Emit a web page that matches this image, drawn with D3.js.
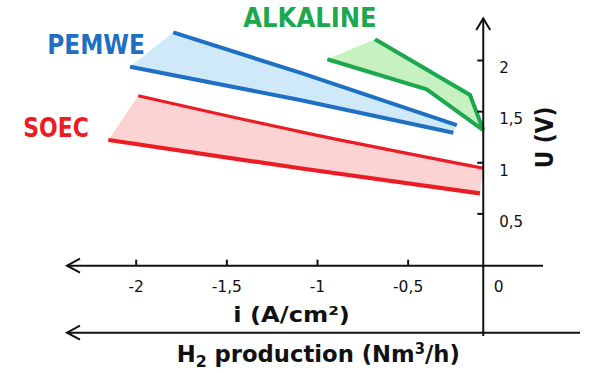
<!DOCTYPE html>
<html>
<head>
<meta charset="utf-8">
<script src="https://cdn.jsdelivr.net/npm/d3@7"></script>
<style>
  html, body { margin: 0; padding: 0; background: #ffffff; }
  svg { display: block; }
  text { font-family: "DejaVu Sans", Verdana, sans-serif; }
</style>
</head>
<body>
<svg id="chart" width="589" height="373"></svg>
<script>
// ---- data: current density i (A/cm2) vs cell voltage U (V) ----
const categories = ["PEMWE", "SOEC", "ALKALINE"];

const pemweUpper = [[-1.793, 2.271], [-1.094, 1.876], [-0.229, 1.364]];
const pemweLower = [[-2.031, 1.934], [-1.094, 1.609], [-0.248, 1.289]];

const soecUpper = [[-1.986, 1.651], [-1.094, 1.299], [-0.083, 0.941]];
const soecLower = [[-2.151, 1.218], [-1.094, 0.941], [-0.101, 0.696]];

const alkUpper = [[-0.680, 2.202], [-0.156, 1.658], [-0.083, 1.315]];
const alkLower = [[-0.943, 2.007], [-0.395, 1.713], [-0.083, 1.315]];

const xTicks = [-2, -1.5, -1, -0.5, 0];
const yTicks = [0.5, 1, 1.5, 2];

const xTitle = "i (A/cm²)";
const yTitle = "U (V)";

// ---- styling ----
const colors = {
  PEMWE:    { line: "#1f6fc2", fill: "#cfe9f9" },
  SOEC:     { line: "#ec1c24", fill: "#fbd3d3" },
  ALKALINE: { line: "#1ca84c", fill: "#c8f1c2" }
};

const svg = d3.select("#chart");
const x = d3.scaleLinear().domain([-2, 0]).range([135.7, 498.3]);
const y = d3.scaleLinear().domain([0, 2]).range([264.5, 60]);

const axisX = x(-0.083);      // vertical axis crossing
const axisY = 265.7;          // i axis
const h2Y = 332.7;            // H2 production axis

const series = [
  { name: "PEMWE", upper: pemweUpper, lower: pemweLower, w1: 4, w2: 4, smooth: true },
  { name: "SOEC", upper: soecUpper, lower: soecLower, w1: 3.2, w2: 4.2, smooth: true },
  { name: "ALKALINE", upper: alkUpper, lower: alkLower, w1: 4, w2: 4, smooth: false }
];

function mkLine(smooth) {
  return d3.line().x(d => x(d[0])).y(d => y(d[1]))
    .curve(smooth ? d3.curveMonotoneX : d3.curveLinear);
}

// fills
series.forEach(s => {
  const ln = mkLine(s.smooth);
  const up = ln(s.upper);
  const lowRev = ln(s.lower.slice().reverse()).replace(/^M/, "L");
  svg.append("path")
    .attr("d", up + lowRev + "Z")
    .attr("fill", colors[s.name].fill)
    .attr("stroke", "none");
});
// lines
series.forEach(s => {
  const ln = mkLine(s.smooth);
  svg.append("path").attr("d", ln(s.upper)).attr("fill", "none")
    .attr("stroke", colors[s.name].line).attr("stroke-width", s.w1);
  svg.append("path").attr("d", ln(s.lower)).attr("fill", "none")
    .attr("stroke", colors[s.name].line).attr("stroke-width", s.w2);
});

// ---- axes ----
const locale = d3.formatLocale({ decimal: ",", thousands: ".", grouping: [3], currency: ["", ""], minus: "-" });
const fmt = locale.format("");

const gx = svg.append("g").attr("transform", `translate(0,${axisY})`)
  .call(d3.axisBottom(x).tickValues(xTicks).tickSize(-6).tickPadding(15).tickFormat(fmt));
gx.select(".domain").remove();
gx.selectAll(".tick line").attr("stroke", "#111").attr("stroke-width", 2)
  .filter(d => d === 0).remove();
gx.selectAll(".tick text").attr("font-size", 15.5).attr("fill", "#111")
  .attr("font-family", "DejaVu Sans");

const gy = svg.append("g").attr("transform", `translate(${axisX},0)`)
  .call(d3.axisRight(y).tickValues(yTicks).tickSize(-6).tickPadding(16).tickFormat(fmt));
gy.select(".domain").remove();
gy.selectAll(".tick line").attr("stroke", "#111").attr("stroke-width", 2);
gy.selectAll(".tick text").attr("font-size", 15).attr("fill", "#111")
  .attr("y", 8).attr("font-family", "DejaVu Sans");

function drawPath(d) {
  return svg.append("path").attr("d", d)
    .attr("stroke", "#111").attr("stroke-width", 2).attr("fill", "none");
}
// i axis
drawPath(`M67,${axisY}H543`);
drawPath(`M80,${axisY - 7}L67,${axisY}L80,${axisY + 7}`);
// H2 axis
drawPath(`M67,${h2Y}H580`);
drawPath(`M80,${h2Y - 7}L67,${h2Y}L80,${h2Y + 7}`);
// U axis
drawPath(`M${axisX},336V18.5`);
drawPath(`M${axisX - 7},30L${axisX},18.5L${axisX + 7},30`);

// ---- text helpers ----
function fitWidth(sel, x0, width) {
  const w = sel.node().getComputedTextLength();
  sel.attr("transform", `translate(${x0},0) scale(${width / w},1) translate(${-x0},0)`);
}

// series labels
const labelPos = {
  PEMWE:    { x: 47.3, base: 54.3, w: 97.7 },
  SOEC:     { x: 23.3, base: 136.7, w: 65.7 },
  ALKALINE: { x: 243.3, base: 26.7, w: 133.4 }
};
categories.forEach(c => {
  const t = svg.append("text")
    .attr("x", labelPos[c].x).attr("y", labelPos[c].base)
    .attr("font-size", 26.5).attr("font-weight", "bold")
    .attr("fill", colors[c].line)
    .text(c);
  fitWidth(t, labelPos[c].x, labelPos[c].w);
});

// x title
const tx = svg.append("text").attr("x", 233.3).attr("y", 321.7)
  .attr("font-size", 22).attr("font-weight", "bold").attr("fill", "#111")
  .text(xTitle);
fitWidth(tx, 233.3, 116.7);

// H2 title
const th = svg.append("text").attr("x", 176.7).attr("y", 361.7)
  .attr("font-size", 23).attr("font-weight", "bold").attr("fill", "#111");
th.append("tspan").text("H");
th.append("tspan").attr("font-size", 16).attr("dy", 5).text("2");
th.append("tspan").attr("dy", -5).text(" production (Nm");
th.append("tspan").attr("font-size", 15).attr("dy", -8).text("3");
th.append("tspan").attr("dy", 8).text("/h)");
fitWidth(th, 176.7, 283.3);

// y title (rotated)
const gyt = svg.append("g").attr("transform", "translate(553,168.3) rotate(-90)");
const ty = gyt.append("text").attr("x", 0).attr("y", 0)
  .attr("font-size", 24.5).attr("font-weight", "bold").attr("fill", "#111")
  .text(yTitle);
fitWidth(ty, 0, 61.6);
</script>
</body>
</html>
